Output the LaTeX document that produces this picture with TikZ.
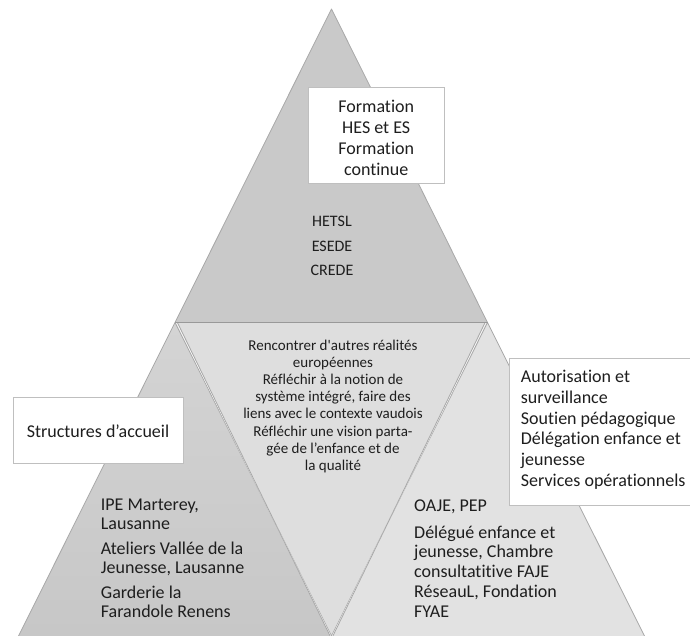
\documentclass[tikz,border=0pt]{standalone}
\usepackage{fontspec}
\setmainfont{Carlito}[Ligatures=NoCommon]
\definecolor{topfill}{HTML}{C9C9C9}
\definecolor{leftfillA}{HTML}{D4D4D4}
\definecolor{leftfillB}{HTML}{C7C7C7}
\definecolor{midfill}{HTML}{DEDEDE}
\definecolor{rightfill}{HTML}{E2E2E2}
\definecolor{edgecol}{HTML}{A8A8A8}
\definecolor{basecol}{HTML}{999999}
\definecolor{boxedge}{HTML}{BFBFBF}
\definecolor{txtcol}{HTML}{1E1E1E}
\tikzset{
  edge/.style={draw=edgecol, line width=0.8pt, line join=round},
  box/.style={draw=boxedge, line width=0.8pt, fill=white, inner sep=0pt},
  bigtxt/.style={font=\fontsize{18}{20.7}\selectfont, text=txtcol, inner sep=0pt},
  midtxt/.style={font=\fontsize{15}{17.2}\selectfont, text=txtcol, inner sep=0pt, anchor=base},
  schooltxt/.style={font=\fontsize{16}{18}\selectfont, text=txtcol, inner sep=0pt, anchor=base},
}
\begin{document}
\begin{tikzpicture}[x=1pt,y=-1pt]
\useasboundingbox (0,0) rectangle (690,636);
\clip (0,0) rectangle (690,636);
\fill[white] (0,0) rectangle (690,636);
% triangles
\coordinate (apex) at (331.5,9);
\coordinate (bl) at (175,322.5);
\coordinate (br) at (487.5,322.5);
\coordinate (b0) at (18.5,636);
\coordinate (bm) at (331.5,636);
\coordinate (b1) at (644.5,636);
\fill[topfill] (apex) -- (bl) -- (br) -- cycle;
\shade[top color=leftfillA, bottom color=leftfillB] (bl) -- (b0) -- (bm) -- cycle;
\fill[midfill] (bl) -- (br) -- (bm) -- cycle;
\fill[rightfill] (br) -- (bm) -- (b1) -- cycle;
\draw[edge] (bl) -- (apex) -- (br);
\draw[edge] (b0) -- (bl) -- (bm) -- (br) -- (b1);
\draw[edge, draw=white, line width=0.6pt] ([xshift=1.4pt]bl) -- ([yshift=-1.6pt]bm);
\draw[edge, draw=white, line width=0.6pt] ([xshift=-1.4pt]br) -- ([yshift=-1.6pt]bm);
\draw[edge] ([xshift=2.4pt]bl) -- ([yshift=-2.8pt]bm) -- ([xshift=-2.4pt]br);
\draw[draw=basecol, line width=1.2pt] (bl) -- (br);
% top section
\node[box, minimum width=135.7pt, minimum height=96pt] (fbox) at (376.2,135.3) {};
\node[bigtxt, anchor=base] (f1) at (376.2,112.3) {Formation};
\node[bigtxt, anchor=base] (f2) at (376.2,133.3) {HES et ES};
\node[bigtxt, anchor=base] (f3) at (376.2,154.3) {Formation};
\node[bigtxt, anchor=base] (f4) at (376.2,175.3) {continue};
\node[schooltxt] (s1) at (332,226.7) {HETSL};
\node[schooltxt] (s2) at (332,251.7) {ESEDE};
\node[schooltxt] (s3) at (332,276) {CREDE};
% middle
\node[midtxt] (m1) at (333,350) {Rencontrer d\textquotesingle autres réalités};
\node[midtxt] (m2) at (333,367.2) {européennes};
\node[midtxt] (m3) at (333,384.4) {Réfléchir à la notion de};
\node[midtxt] (m4) at (333,401.6) {système intégré, faire des};
\node[midtxt] (m5) at (333,418.8) {liens avec le contexte vaudois};
\node[midtxt] (m6) at (333,436) {Réfléchir une vision parta-};
\node[midtxt] (m7) at (333,453.2) {gée de l’enfance et de};
\node[midtxt] (m8) at (333,470.4) {la qualité};
% left
\node[box, minimum width=170pt, minimum height=66pt] (sbox) at (98,430.3) {};
\node[bigtxt, anchor=base] (st) at (98,437) {Structures d’accueil};
\node[bigtxt, anchor=base west] (l1) at (100.7,510.7) {IPE Marterey,};
\node[bigtxt, anchor=base west] (l2) at (100.7,529.7) {Lausanne};
\node[bigtxt, anchor=base west] (l3) at (100.7,554.7) {Ateliers Vallée de la};
\node[bigtxt, anchor=base west] (l4) at (100.7,573.7) {Jeunesse, Lausanne};
\node[bigtxt, anchor=base west] (l5) at (100.7,598.7) {Garderie la};
\node[bigtxt, anchor=base west] (l6) at (100.7,617.7) {Farandole Renens};
% right
\node[box, minimum width=190pt, minimum height=147pt, anchor=north west] (rbox) at (509,358) {};
\node[bigtxt, anchor=base west] (r1) at (520.7,382.7) {Autorisation et};
\node[bigtxt, anchor=base west] (r2) at (520.7,403.4) {surveillance};
\node[bigtxt, anchor=base west] (r3) at (520.7,424.1) {Soutien pédagogique};
\node[bigtxt, anchor=base west] (r4) at (520.7,444.8) {Délégation enfance et};
\node[bigtxt, anchor=base west] (r5) at (520.7,465.5) {jeunesse};
\node[bigtxt, anchor=base west] (r6) at (520.7,486.2) {Services opérationnels};
\node[bigtxt, anchor=base west] (o1) at (414,511.7) {OAJE, PEP};
\node[bigtxt, anchor=base west] (o2) at (414,538) {Délégué enfance et};
\node[bigtxt, anchor=base west] (o3) at (414,557.8) {jeunesse, Chambre};
\node[bigtxt, anchor=base west] (o4) at (414,577.6) {consultatitive FAJE};
\node[bigtxt, anchor=base west] (o5) at (414,597.4) {RéseauL, Fondation};
\node[bigtxt, anchor=base west] (o6) at (414,617.2) {FYAE};
\end{tikzpicture}
\end{document}
